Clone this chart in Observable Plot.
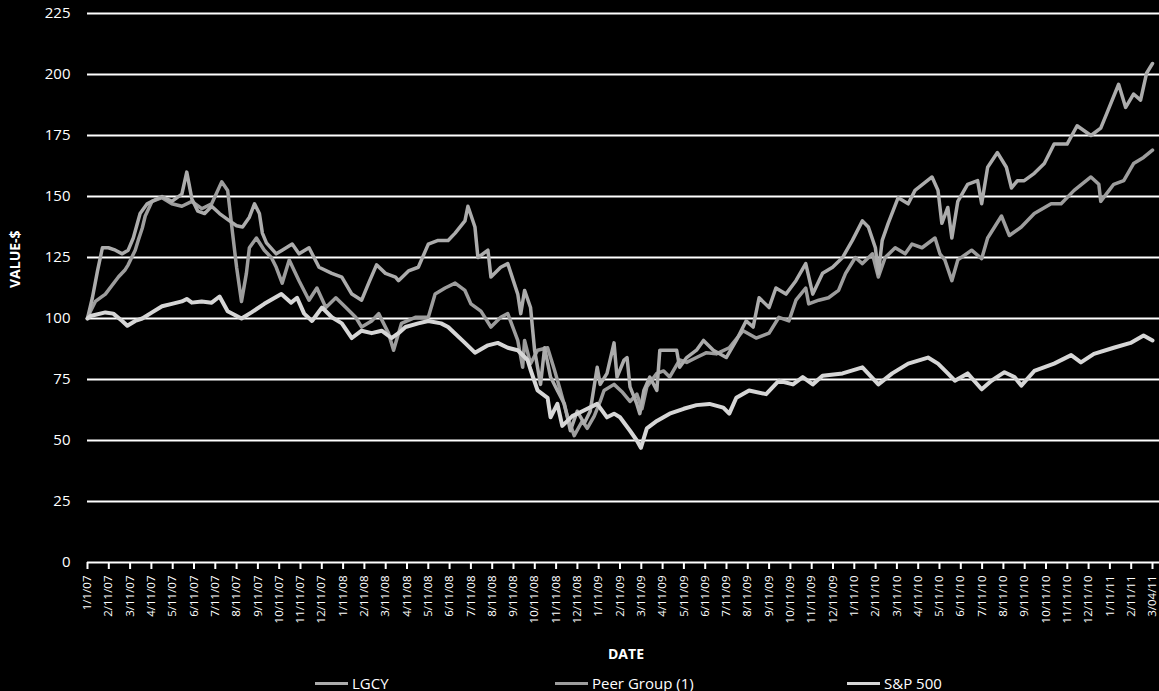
<!DOCTYPE html>
<html><head><meta charset="utf-8">
<script src="https://cdn.jsdelivr.net/npm/d3@7"></script>
<script src="https://cdn.jsdelivr.net/npm/@observablehq/plot@0.6"></script>
<style>
html,body{margin:0;padding:0;background:#000;}
body{width:1159px;height:691px;overflow:hidden;font-family:"Open Sans",sans-serif;color:#fff;position:relative;}
#xlabel{position:absolute;left:0;top:636px;width:1252px;height:35px;line-height:35px;text-align:center;font-weight:bold;font-size:14px;}
.leg{position:absolute;top:671px;height:24px;line-height:24px;font-size:15px;display:flex;align-items:center;}
.sw{display:inline-block;width:33px;height:3px;margin-right:4px;}
</style></head><body>
<div id="chart"></div>
<div id="xlabel">DATE</div>
<div id="legend"></div>
<script>
// Category labels of the date axis (one per tick, evenly spaced)
const tickLabels = ["1/1/07",
 "2/11/07","3/11/07","4/11/07","5/11/07","6/11/07","7/11/07","8/11/07","9/11/07","10/11/07","11/11/07","12/11/07",
 "1/11/08","2/11/08","3/11/08","4/11/08","5/11/08","6/11/08","7/11/08","8/11/08","9/11/08","10/11/08","11/11/08","12/11/08",
 "1/11/09","2/11/09","3/11/09","4/11/09","5/11/09","6/11/09","7/11/09","8/11/09","9/11/09","10/11/09","11/11/09","12/11/09",
 "1/11/10","2/11/10","3/11/10","4/11/10","5/11/10","6/11/10","7/11/10","8/11/10","9/11/10","10/11/10","11/11/10","12/11/10",
 "1/11/11","2/11/11","3/04/11"];
const yTicks = [0,25,50,75,100,125,150,175,200,225];
const seriesNames = ["LGCY","Peer Group (1)","S&P 500"];
const seriesColors = ["#acacac","#9d9d9d","#d6d6d6"];

// [position along the date axis (tick index), value $]
const lgcy = [[0,100],[0.23,108.5],[0.47,119.5],[0.70,129],[0.98,129],[1.31,128],[1.63,126.5],[1.91,128],[2.15,133],[2.47,143],[2.80,147],[3.03,148],[3.50,150],[3.96,148],[4.43,151],[4.66,160],[4.90,149],[5.18,144],[5.50,143],[5.83,146],[6.20,143],[6.67,140],[7.00,138],[7.28,137.5],[7.60,141.5],[7.84,147],[8.07,143],[8.21,135],[8.40,131],[8.86,126.5],[9.14,128],[9.61,130.5],[9.93,126.5],[10.40,129],[10.87,121],[11.47,118.5],[11.94,117],[12.41,110],[12.87,107.5],[13.20,114.5],[13.57,122],[13.99,118.5],[14.46,117],[14.60,115.5],[15.07,119.5],[15.53,121],[16.00,130.5],[16.46,132],[16.93,132],[17.26,135],[17.72,140],[17.86,146],[18.19,137.5],[18.33,125],[18.80,128],[18.94,117],[19.40,121],[19.73,122.5],[20.20,110],[20.34,102],[20.52,111.5],[20.80,104.5],[20.99,87],[21.27,73],[21.46,88],[21.74,76],[22.06,70.5],[22.39,65],[22.67,54],[22.99,62],[23.32,57],[23.60,62],[23.93,80],[24.07,73],[24.39,77.5],[24.72,90],[24.86,76],[25.19,83],[25.33,84],[25.47,72],[25.79,65],[25.93,61],[26.12,70.5],[26.40,76],[26.73,70.5],[26.87,87],[27.19,87],[27.66,87],[27.80,80],[28.13,84],[28.59,87],[28.92,91],[29.38,87],[29.99,84],[30.46,91],[30.92,99],[31.25,96.5],[31.53,108.5],[32.00,104.5],[32.32,112.5],[32.79,110],[33.26,115.5],[33.72,122.5],[34.05,110],[34.51,118.5],[34.98,121],[35.45,125],[35.91,132],[36.38,140],[36.66,137.5],[36.99,129],[37.13,118.5],[37.31,132],[37.59,139],[38.06,149.5],[38.53,147],[38.85,152.5],[39.65,158],[39.93,152.5],[40.11,139],[40.39,145.5],[40.58,133],[40.86,148],[41.32,155],[41.79,156.5],[41.98,147],[42.26,162],[42.72,168],[43.14,162],[43.38,153.5],[43.66,156.5],[43.98,156.5],[44.45,159.5],[44.92,163.5],[45.38,171.5],[45.99,171.5],[46.46,179],[47.11,175],[47.57,178],[47.85,184],[48.41,196],[48.74,186.5],[49.11,192],[49.44,189.5],[49.72,200.5],[50,204.5]];

const peer = [[0,100],[0.14,103],[0.37,107],[0.84,110],[1.45,117],[1.77,120],[1.91,122],[2.24,128],[2.38,132],[2.57,137],[2.71,142],[3.03,148],[3.50,149.5],[3.96,147],[4.43,146],[4.90,148],[5.36,145],[5.83,147],[6.30,156],[6.58,152.5],[6.81,135],[7.00,121],[7.23,107],[7.46,118.5],[7.60,129],[7.93,133],[8.30,128],[8.63,125],[8.86,121],[9.14,114.5],[9.47,124],[9.93,115.5],[10.40,107.5],[10.77,112.5],[11.19,104.5],[11.66,108.5],[12.13,104.5],[12.59,100.5],[12.87,96.5],[13.34,99],[13.67,102],[14.13,94],[14.37,87],[14.74,98],[15.39,100.5],[16.00,100.5],[16.32,110],[16.79,112.5],[17.26,114.5],[17.72,111.5],[18.00,106],[18.47,103],[18.94,96.5],[19.40,100.5],[19.73,102],[20.20,91],[20.43,80],[20.52,91],[20.80,81.5],[21.13,87],[21.60,88],[21.92,79],[22.20,70.5],[22.53,60],[22.85,52],[23.23,58],[23.46,55],[23.79,60],[24.07,66],[24.25,70.5],[24.72,73],[25.09,70],[25.47,66],[25.79,69],[26.03,63],[26.26,72],[26.73,77.5],[27.05,78.5],[27.33,76],[27.80,83],[28.13,82],[28.59,84],[29.06,86],[29.52,85.5],[30.13,88],[30.78,95],[31.39,92],[32.00,94],[32.46,100.5],[32.93,99],[33.26,107.5],[33.72,112.5],[33.86,106],[34.33,107.5],[34.79,108.5],[35.26,111.5],[35.59,118.5],[36.05,125],[36.38,122.5],[36.85,126.5],[37.13,117],[37.45,125],[37.92,129],[38.39,126.5],[38.71,130.5],[39.18,129],[39.79,133],[40.02,126.5],[40.25,124],[40.58,115.5],[40.86,124],[41.51,128],[41.98,124.5],[42.26,133],[42.91,142],[43.28,134],[43.84,137.5],[44.45,143],[45.24,147],[45.71,147],[46.32,152.5],[47.11,158],[47.48,155],[47.57,148],[48.18,155],[48.65,156.5],[49.11,163.5],[49.58,166],[50,169]];

const sp500 = [[0,100],[0.14,101],[0.84,102.5],[1.21,102],[1.63,99],[1.87,97],[2.24,99],[2.57,100],[3.03,102.5],[3.50,105],[3.96,106],[4.43,107],[4.66,108],[4.90,106.5],[5.36,107],[5.83,106.5],[6.20,109],[6.58,103],[7.23,100],[7.70,102.5],[8.30,106],[9.10,110],[9.56,106.5],[9.84,108.5],[10.17,102],[10.54,99],[11.01,104.5],[11.47,100.5],[11.94,98],[12.41,92],[12.87,95],[13.34,94],[13.81,95],[14.27,92],[14.60,94],[14.93,96.5],[15.53,98],[16.00,99],[16.60,98],[16.93,96.5],[17.72,90],[18.19,86],[18.80,89],[19.26,90],[19.73,88],[20.20,87],[20.66,83],[20.80,79],[21.13,70.5],[21.60,67.5],[21.74,59.5],[22.06,65],[22.29,56],[22.76,60],[23.23,62],[23.93,65],[24.39,59.5],[24.72,61],[25.00,59.5],[25.47,54],[25.79,50],[25.98,47],[26.26,55],[26.73,58],[27.33,61],[27.99,63],[28.59,64.5],[29.20,65],[29.85,63.5],[30.13,61],[30.46,67.5],[31.06,70.5],[31.86,69],[32.46,74.5],[33.12,73],[33.58,76],[34.05,73],[34.51,76.5],[35.45,77.5],[36.38,80],[37.13,73],[37.78,77.5],[38.53,81.5],[39.46,84],[39.93,81.5],[40.39,77.5],[40.72,74.5],[41.32,77.5],[41.98,71],[42.44,74.5],[43.05,78],[43.52,76],[43.84,72.5],[44.45,78.5],[45.38,81.5],[46.18,85],[46.64,82],[47.25,85.5],[48.18,88],[48.97,90],[49.58,93],[50,91]];

const chart = Plot.plot({
  width: 1159, height: 636,
  marginTop: 13, marginBottom: 74, marginLeft: 87, marginRight: 7,
  style: {background: "#000", color: "#fff", fontFamily: "Open Sans, sans-serif", fontSize: "13px", overflow: "visible"},
  x: {domain: [0, tickLabels.length - 1], axis: null},
  y: {domain: [0, 225], axis: null},
  marks: [
    Plot.ruleY(yTicks, {stroke: "#fff", strokeWidth: 2.2, x1: 0, x2: tickLabels.length - 1, insetRight: -7}),
    Plot.axisX(d3.range(tickLabels.length), {tickFormat: i => tickLabels[i], tickRotate: -90, tickSize: 7, tickPadding: 6, stroke: "#fff", strokeWidth: 2, fill: "#fff", fontSize: 11.5, label: null}),
    Plot.axisY(yTicks, {tickSize: 0, tickPadding: 17, fontSize: 15, fill: "#fff", label: null}),
    Plot.text(["VALUE-$"], {text: d => d, frameAnchor: "left", dx: -72, rotate: -90, fontWeight: "bold", fontSize: 14, fill: "#fff"}),
    Plot.line(peer, {x: d => d[0], y: d => d[1], stroke: seriesColors[1], strokeWidth: 3.5}),
    Plot.line(lgcy, {x: d => d[0], y: d => d[1], stroke: seriesColors[0], strokeWidth: 3.5}),
    Plot.line(sp500, {x: d => d[0], y: d => d[1], stroke: seriesColors[2], strokeWidth: 4})
  ]
});
document.getElementById("chart").append(chart);

const legendPos = [315, 555, 847];
const legend = document.getElementById("legend");
seriesNames.forEach((name, i) => {
  const item = document.createElement("div");
  item.className = "leg";
  item.style.left = legendPos[i] + "px";
  const sw = document.createElement("span");
  sw.className = "sw";
  sw.style.background = seriesColors[i];
  item.append(sw, document.createTextNode(name));
  legend.append(item);
});
</script>
</body></html>
